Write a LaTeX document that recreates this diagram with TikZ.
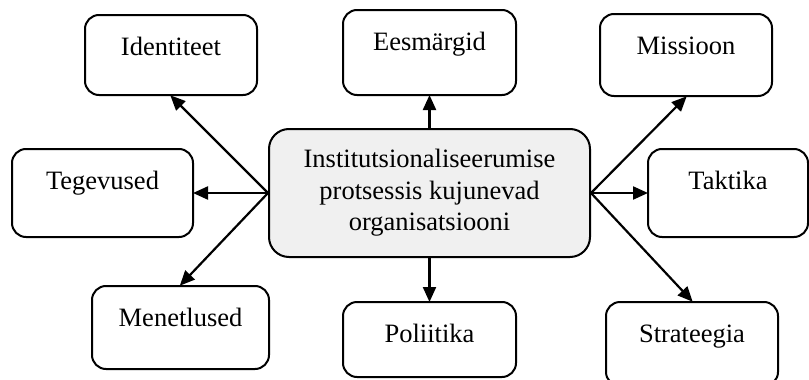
\documentclass[tikz,border=0pt]{standalone}
\usepackage{fontspec}
\setmainfont{Liberation Serif}
\usetikzlibrary{arrows.meta}
\begin{document}
\begin{tikzpicture}[x=1pt,y=-1pt,
  box/.style={draw, line width=2pt, rounded corners=14pt, inner xsep=0pt, inner ysep=0pt,
    text height=40pt, font=\fontsize{26.5}{31.5}\selectfont},
  hub/.style={draw, line width=2pt, rounded corners=20pt, fill=black!6, inner sep=0pt,
    minimum width=321pt, minimum height=128pt, align=center, font=\fontsize{26.5}{31.5}\selectfont},
  conn/.style={line width=2.2pt, -{Triangle[length=15pt,width=13pt]}, shorten >=-1pt}]
\useasboundingbox (0,0) rectangle (809,380);
\node[hub] (cent) at (429.5,193) {Institutsionaliseerumise\\protsessis kujunevad\\organisatsiooni};
\node[box, minimum width=172pt, minimum height=80pt, text depth=40pt] (iden) at (171,55) {Identiteet};
\node[box, minimum width=173pt, minimum height=85pt, text depth=45pt] (eesm) at (429.5,52.5) {Eesmärgid};
\node[box, minimum width=172pt, minimum height=82pt, text depth=42pt] (miss) at (686,55) {Missioon};
\node[box, minimum width=181pt, minimum height=88pt, text depth=48pt] (tege) at (102.5,193) {Tegevused};
\node[box, minimum width=160pt, minimum height=88pt, text depth=48pt] (takt) at (728,193) {Taktika};
\node[box, minimum width=177pt, minimum height=83pt, text depth=43pt] (mene) at (180.5,327.5) {Menetlused};
\node[box, minimum width=173pt, minimum height=75pt, text depth=35pt] (poli) at (429.5,339.5) {Poliitika};
\node[box, minimum width=172pt, minimum height=84pt, text depth=44pt] (stra) at (692,344) {Strateegia};
\draw[conn] (cent.west) -- (iden.south);
\draw[conn] (cent.west) -- (tege.east);
\draw[conn] (cent.west) -- (mene.north);
\draw[conn] (cent.north) -- (eesm.south);
\draw[conn] (cent.south) -- (poli.north);
\draw[conn] (cent.east) -- (miss.south);
\draw[conn] (cent.east) -- (takt.west);
\draw[conn] (cent.east) -- (stra.north);
\end{tikzpicture}
\end{document}
